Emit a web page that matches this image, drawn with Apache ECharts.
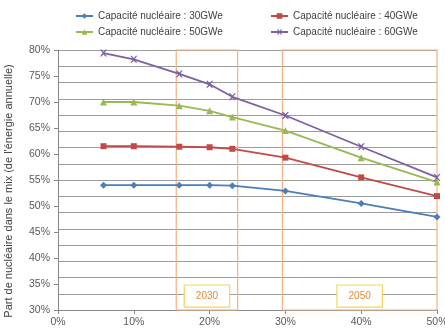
<!DOCTYPE html>
<html><head><meta charset="utf-8">
<script src="https://cdn.jsdelivr.net/npm/echarts@6/dist/echarts.min.js"></script>
<style>html,body{margin:0;padding:0;background:#fff}#c{width:445px;height:328px}</style>
</head><body><div id="c"></div>
<script>
const xShares = [6, 10, 16, 20, 23, 30, 40, 50];
const seriesNames = ['Capacité nucléaire : 30GWe','Capacité nucléaire : 40GWe','Capacité nucléaire : 50GWe','Capacité nucléaire : 60GWe'];
const cap30 = [54, 54, 54, 54, 53.9, 52.9, 50.5, 47.9];
const cap40 = [61.5, 61.5, 61.4, 61.3, 61, 59.3, 55.5, 51.9];
const cap50 = [70, 70, 69.3, 68.3, 67.1, 64.5, 59.3, 54.6];
const cap60 = [79.4, 78.2, 75.4, 73.4, 71, 67.4, 61.4, 55.5];
const periods = ['2030', '2050'];
const periodStart = [15.6, 29.6];
const periodEnd = [23.7, 50.6];
const yTitle = "Part de nucléaire dans le mix (de l'énergie annuelle)";

const colors = ['#4a7ebb', '#be4b48', '#98b954', '#7d60a0'];
const symbols = ['diamond', 'rect', 'triangle', 'path://M0,0L2,0L5,3L8,0L10,0L6,5L10,10L8,10L5,7L2,10L0,10L4,5Z'];
const allData = [cap30, cap40, cap50, cap60];
const font = 'Liberation Sans';

const series = allData.map((vals, i) => ({
  name: seriesNames[i],
  type: 'line',
  data: vals.map((v, j) => [xShares[j], v]),
  symbol: symbols[i],
  symbolSize: i === 1 ? 6 : 7,
  lineStyle: { color: colors[i], width: 1.8 },
  itemStyle: { color: colors[i] },
  z: 3
}));
series.push({
  type: 'line', data: [], silent: true,
  markArea: {
    silent: true,
    itemStyle: { color: 'rgba(0,0,0,0)', borderColor: '#f4b183', borderWidth: 1.2 },
    label: {
      position: 'insideBottom', distance: 4,
      color: '#e8893a', fontFamily: font, fontSize: 10,
      backgroundColor: '#fff', borderColor: '#f5d55a', borderWidth: 1.2,
      padding: [6, 11, 5, 11]
    },
    data: periods.map((p, k) => [
      { name: p, xAxis: periodStart[k], yAxis: 30 },
      { xAxis: periodEnd[k], yAxis: 80.7 }
    ])
  },
  clip: false
});

const legendText = { fontSize: 10, color: '#404040', fontFamily: font };
const chart = echarts.init(document.getElementById('c'), null, { renderer: 'canvas' });
chart.setOption({
  animation: false,
  backgroundColor: '#fff',
  textStyle: { fontFamily: font },
  legend: [
    { data: [seriesNames[0], seriesNames[2]], orient: 'vertical', left: 75, top: 11, itemGap: 6, padding: 0,
      itemWidth: 17, itemHeight: 7, textStyle: legendText },
    { data: [seriesNames[1], seriesNames[3]], orient: 'vertical', left: 270, top: 11, itemGap: 6, padding: 0,
      itemWidth: 17, itemHeight: 7, textStyle: legendText }
  ],
  grid: { left: 58, right: 8, top: 50, bottom: 18, containLabel: false, outerBoundsMode: 'none' },
  xAxis: {
    type: 'value', min: 0, max: 50, interval: 10,
    axisLine: { lineStyle: { color: '#868686' } },
    axisTick: { show: true, length: 4, lineStyle: { color: '#868686' } },
    axisLabel: { formatter: '{value}%', color: '#595959', fontSize: 10.5, margin: 7 },
    splitLine: { show: false }
  },
  yAxis: [{
    type: 'value', min: 30, max: 80, interval: 5,
    name: yTitle, nameLocation: 'middle', nameGap: 44,
    nameTextStyle: { fontSize: 11, color: '#404040', fontFamily: font, padding: [0, 0, 0, -22] },
    axisLine: { show: true, lineStyle: { color: '#868686' } },
    axisTick: { show: true, length: 4, lineStyle: { color: '#868686' } },
    axisLabel: { formatter: '{value}%', color: '#595959', fontSize: 10.5, margin: 8 },
    splitLine: { show: false }
  }, {
    type: 'value', min: 0, max: 16, interval: 1, position: 'left',
    axisLine: { show: false }, axisTick: { show: false }, axisLabel: { show: false },
    splitLine: { show: true, lineStyle: { color: '#9c9c9c', width: 1 } }
  }],
  series: series
});
</script></body></html>
